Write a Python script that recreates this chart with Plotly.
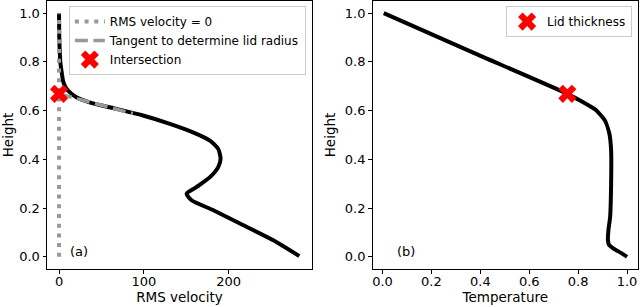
import plotly.graph_objects as go

# ---- data ----
height_v = [1.0, 0.90, 0.80, 0.76, 0.723, 0.700, 0.682, 0.655, 0.634, 0.607, 0.580,
            0.546, 0.511, 0.477, 0.443, 0.403, 0.368, 0.327, 0.286, 0.259, 0.232,
            0.191, 0.137, 0.068, 0.003]
rms_velocity = [0.0, 0.3, 1.5, 3.0, 4.7, 7.0, 10.6, 20.5, 36, 67.8, 99,
                130.7, 158, 178, 187.7, 190.5, 187.7, 178, 162, 150.4, 156.3,
                182, 213.3, 252.7, 283.3]

zero_x = [0, 0]
zero_y = [0, 1]

tangent_x = [0, 87]
tangent_y = [0.669, 0.588]

intersection_x = [0]
intersection_y = [0.669]

height_t = [1.0, 0.834, 0.669, 0.634, 0.600, 0.559, 0.505, 0.437, 0.300, 0.164,
            0.109, 0.068, 0.050, 0.034, 0.014, 0.0]
temperature = [0.005, 0.38, 0.756, 0.821, 0.876, 0.910, 0.928, 0.935, 0.935, 0.931,
               0.924, 0.922, 0.926, 0.945, 0.979, 1.0]

lid_x = [0.756]
lid_y = [0.669]

FONT = "DejaVu Sans"
GRAY = "#999999"

fig = go.Figure()

# left panel
fig.add_trace(go.Scatter(x=rms_velocity, y=height_v, mode="lines",
                         line=dict(color="black", width=4, shape="spline", smoothing=0.6),
                         showlegend=False, xaxis="x", yaxis="y"))
fig.add_trace(go.Scatter(x=zero_x, y=zero_y, mode="lines", name="RMS velocity = 0",
                         line=dict(color=GRAY, width=4, dash="4px,5.7px"),
                         xaxis="x", yaxis="y", legend="legend"))
fig.add_trace(go.Scatter(x=tangent_x, y=tangent_y, mode="lines",
                         name="Tangent to determine lid radius",
                         line=dict(color=GRAY, width=3.5, dash="13px,5.6px"),
                         xaxis="x", yaxis="y", legend="legend"))
fig.add_trace(go.Scatter(x=intersection_x, y=intersection_y, mode="markers",
                         name="Intersection",
                         marker=dict(symbol="x", color="red", size=16, line=dict(width=0)),
                         xaxis="x", yaxis="y", legend="legend"))

# right panel
fig.add_trace(go.Scatter(x=temperature, y=height_t, mode="lines",
                         line=dict(color="black", width=4, shape="spline", smoothing=0.5),
                         showlegend=False, xaxis="x2", yaxis="y2"))
fig.add_trace(go.Scatter(x=lid_x, y=lid_y, mode="markers", name="Lid thickness",
                         marker=dict(symbol="x", color="red", size=16, line=dict(width=0)),
                         xaxis="x2", yaxis="y2", legend="legend2"))

axis_common = dict(showline=True, linecolor="black", linewidth=1, mirror=True,
                   showgrid=False, zeroline=False, ticks="outside", ticklen=3.5,
                   tickwidth=0.8, tickcolor="black",
                   tickfont=dict(family=FONT, size=13, color="black"))
title_font = dict(family=FONT, size=13.5, color="black")

legend_common = dict(bgcolor="rgba(255,255,255,0.8)", bordercolor="#cccccc",
                     borderwidth=1, font=dict(family=FONT, size=12, color="black"),
                     xanchor="right", yanchor="top", tracegroupgap=0)

fig.update_layout(
    width=640, height=307,
    margin=dict(l=47, r=2, t=1, b=38),
    plot_bgcolor="white", paper_bgcolor="white",
    xaxis=dict(domain=[0, 0.4484], range=[-14.2, 298.3], tickvals=[0, 100, 200],
               ticklabelstandoff=-3,
               title=dict(text="RMS velocity", font=title_font, standoff=1), anchor="y",
               **axis_common),
    yaxis=dict(domain=[0, 1], range=[-0.05, 1.05], tickvals=[0, 0.2, 0.4, 0.6, 0.8, 1.0],
               tickformat=".1f", title=dict(text="Height", font=title_font, standoff=6),
               anchor="x", **axis_common),
    xaxis2=dict(domain=[0.5508, 1.0], range=[-0.041, 1.045],
                tickvals=[0, 0.2, 0.4, 0.6, 0.8, 1.0], tickformat=".1f",
                ticklabelstandoff=-3,
                title=dict(text="Temperature", font=title_font, standoff=1), anchor="y2",
                **axis_common),
    yaxis2=dict(domain=[0, 1], range=[-0.05, 1.05], tickvals=[0, 0.2, 0.4, 0.6, 0.8, 1.0],
                tickformat=".1f", title=dict(text="Height", font=title_font, standoff=6),
                anchor="x2", **axis_common),
    legend=dict(x=0.438, y=0.981, **legend_common),
    legend2=dict(x=0.99, y=0.981, **legend_common),
    annotations=[
        dict(text="(a)", x=10, y=0.02, xref="x", yref="y", xanchor="left",
             yanchor="middle", showarrow=False, font=dict(family=FONT, size=13, color="black")),
        dict(text="(b)", x=0.05, y=0.02, xref="x2", yref="y2", xanchor="left",
             yanchor="middle", showarrow=False, font=dict(family=FONT, size=13, color="black")),
    ],
)

fig.write_html("out.html", config={"displayModeBar": False},
               post_script="document.body.style.margin='0px';")
